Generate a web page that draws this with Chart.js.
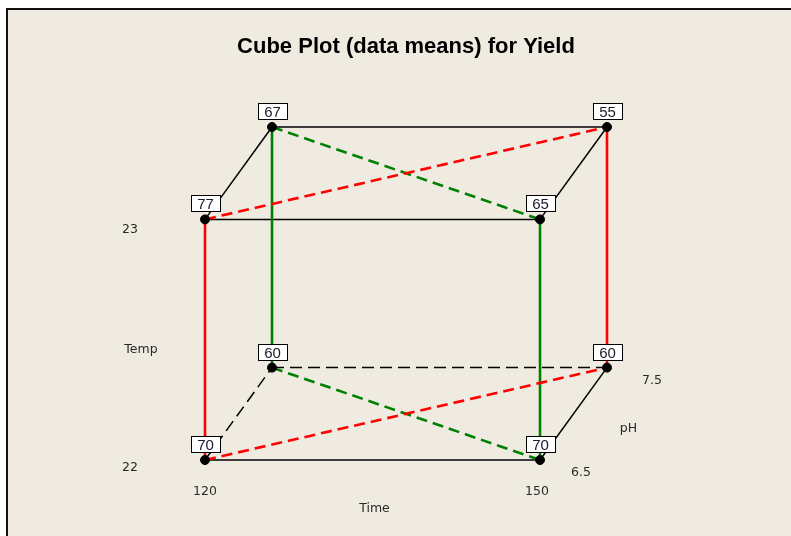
<!DOCTYPE html>
<html>
<head>
<meta charset="utf-8">
<script src="https://cdn.jsdelivr.net/npm/chart.js@4"></script>
<style>
  body { margin: 0; background: #ffffff; }
  canvas { display: block; }
</style>
</head>
<body>
<canvas id="cube" width="791" height="536"></canvas>
<script>
// factor levels
const timeLevels = [120, 150];
const tempLevels = [22, 23];
const phLevels = [6.5, 7.5];
const timeLabels = ["120", "150"];
const tempLabels = ["22", "23"];
const phLabels = ["6.5", "7.5"];
const factorNames = ["Time", "Temp", "pH"];

// yield means per corner, index = time + 2*temp + 4*pH (0 = low, 1 = high)
const yieldMeans = [70, 70, 77, 65, 60, 60, 67, 55];

// cube edges as corner pairs
const edgesSolid = [[2, 3], [6, 7], [2, 6], [3, 7], [0, 1], [1, 5]];
const edgesHidden = [[4, 5], [0, 4]];
const edgesRed = [[0, 2], [5, 7]];
const edgesGreen = [[4, 6], [1, 3]];
const diagRed = [[2, 7], [0, 5]];
const diagGreen = [[6, 3], [4, 1]];

// oblique projection: one pH step moves the back face right (in Time units) and up (in Temp units)
const depthX = 6;
const depthY = 0.384;

function corner(i) {
  const t = i & 1, tp = (i >> 1) & 1, p = (i >> 2) & 1;
  const f = (phLevels[p] - phLevels[0]) / (phLevels[1] - phLevels[0]);
  return {
    x: timeLevels[t] + f * depthX,
    y: tempLevels[tp] + f * depthY
  };
}

function edgeSets(pairs, color, width, dash) {
  return pairs.map(([a, b]) => ({
    data: [corner(a), corner(b)],
    showLine: true,
    borderColor: color,
    borderWidth: width,
    borderDash: dash,
    pointRadius: 0,
    clip: false
  }));
}

const corners = yieldMeans.map((v, i) => corner(i));

const datasets = [
  {
    data: corners,
    pointRadius: 4.5,
    pointBackgroundColor: "#000000",
    pointBorderColor: "#000000",
    showLine: false,
    clip: false
  },
  ...edgeSets(diagRed, "#ff0000", 2.6, [11, 6]),
  ...edgeSets(diagGreen, "#008000", 2.6, [11, 6]),
  ...edgeSets(edgesRed, "#ff0000", 2.6, []),
  ...edgeSets(edgesGreen, "#008000", 2.6, []),
  ...edgeSets(edgesSolid, "#000000", 1.5, []),
  ...edgeSets(edgesHidden, "#000000", 1.5, [12, 6])
];

// background panel and frame
const panelPlugin = {
  id: "panel",
  beforeDraw(chart) {
    const ctx = chart.ctx;
    ctx.save();
    ctx.fillStyle = "#ffffff";
    ctx.fillRect(0, 0, chart.width, chart.height);
    ctx.fillStyle = "#efebe1";
    ctx.fillRect(8, 10, chart.width - 8, chart.height - 10);
    ctx.strokeStyle = "#111111";
    ctx.lineWidth = 2;
    ctx.beginPath();
    ctx.moveTo(7, chart.height);
    ctx.lineTo(7, 9);
    ctx.lineTo(chart.width, 9);
    ctx.stroke();
    ctx.restore();
  }
};

// value boxes on the corners and the factor level labels
const labelPlugin = {
  id: "cubeLabels",
  afterDatasetsDraw(chart) {
    const ctx = chart.ctx;
    const xs = chart.scales.x, ys = chart.scales.y;
    const meta = chart.getDatasetMeta(0);
    ctx.save();
    ctx.font = "15px 'Liberation Sans'";
    ctx.textAlign = "center";
    ctx.textBaseline = "middle";
    meta.data.forEach((pt, i) => {
      const w = 29, h = 16;
      const bx = Math.round(pt.x - w / 2) + 0.5;
      const by = Math.round(pt.y - 24) + 0.5;
      ctx.fillStyle = "#ffffff";
      ctx.fillRect(bx, by, w, h);
      ctx.strokeStyle = "#000000";
      ctx.lineWidth = 1;
      ctx.strokeRect(bx, by, w, h);
      ctx.fillStyle = "#1a1a2a";
      ctx.fillText(String(yieldMeans[i]), pt.x + 0.5, by + h / 2 + 1);
    });

    ctx.font = "12.5px 'DejaVu Sans'";
    ctx.fillStyle = "#2a2a2a";
    const x0 = xs.getPixelForValue(timeLevels[0]);
    const x1 = xs.getPixelForValue(timeLevels[1]);
    const y0 = ys.getPixelForValue(tempLevels[0]);
    const y1 = ys.getPixelForValue(tempLevels[1]);
    const back = corner(5);
    const bx5 = xs.getPixelForValue(back.x), by5 = ys.getPixelForValue(back.y);

    // Temp
    ctx.fillText(tempLabels[1], x0 - 75, y1 + 10);
    ctx.fillText(tempLabels[0], x0 - 75, y0 + 8);
    ctx.fillText(factorNames[1], x0 - 64, (y0 + y1) / 2 + 10);
    // Time
    ctx.fillText(timeLabels[0], x0, y0 + 32);
    ctx.fillText(timeLabels[1], x1 - 3, y0 + 32);
    ctx.fillText(factorNames[0], (x0 + x1) / 2 + 2, y0 + 49);
    // pH
    ctx.fillText(phLabels[0], x1 + 41, y0 + 13);
    ctx.fillText(phLabels[1], bx5 + 45, by5 + 13);
    ctx.fillText(factorNames[2], (x1 + bx5) / 2 + 55, (y0 + by5) / 2 + 15);
    ctx.restore();
  }
};

new Chart(document.getElementById("cube"), {
  type: "scatter",
  data: { datasets: datasets },
  options: {
    responsive: false,
    animation: false,
    layout: { padding: { left: 205, right: 184, top: 0, bottom: 76 } },
    scales: {
      x: { type: "linear", min: timeLevels[0], max: timeLevels[1] + depthX, display: false },
      y: { type: "linear", min: tempLevels[0], max: tempLevels[1] + depthY, display: false }
    },
    plugins: {
      legend: { display: false },
      tooltip: { enabled: false },
      title: {
        display: true,
        text: "Cube Plot (data means) for Yield",
        color: "#000000",
        font: { family: "'Liberation Sans'", size: 22, weight: "bold", lineHeight: 1.2 },
        padding: { top: 34, bottom: 66.6 }
      }
    }
  },
  plugins: [panelPlugin, labelPlugin]
});
</script>
</body>
</html>
